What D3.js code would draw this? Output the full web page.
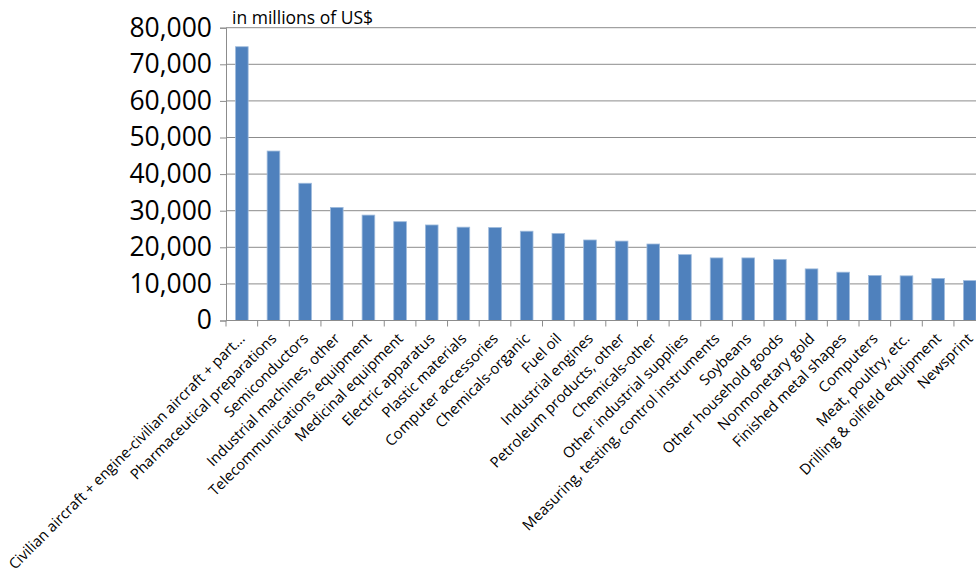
<!DOCTYPE html>
<html>
<head>
<meta charset="utf-8">
<script src="https://cdn.jsdelivr.net/npm/d3@7"></script>
<style>
  html, body { margin: 0; padding: 0; background: #fff; }
  svg { display: block; }
</style>
</head>
<body>
<svg id="chart" width="976" height="578"></svg>
<script>
// US export categories and values (in millions of US$)
const categories = [
  "Civilian aircraft + engine-civilian aircraft + part...",
  "Pharmaceutical preparations",
  "Semiconductors",
  "Industrial machines, other",
  "Telecommunications equipment",
  "Medicinal equipment",
  "Electric apparatus",
  "Plastic materials",
  "Computer accessories",
  "Chemicals-organic",
  "Fuel oil",
  "Industrial engines",
  "Petroleum products, other",
  "Chemicals-other",
  "Other industrial supplies",
  "Measuring, testing, control instruments",
  "Soybeans",
  "Other household goods",
  "Nonmonetary gold",
  "Finished metal shapes",
  "Computers",
  "Meat, poultry, etc.",
  "Drilling & oilfield equipment",
  "Newsprint"
];
const exportValues = [
  74800, 46300, 37500, 30900, 28800, 27000, 26100, 25500, 25400, 24400,
  23800, 22000, 21700, 20900, 18000, 17100, 17100, 16700, 14100, 13200,
  12300, 12200, 11500, 10900
];
const yTicks = [0, 10000, 20000, 30000, 40000, 50000, 60000, 70000, 80000];
const unitLabel = "in millions of US$";

const svg = d3.select("#chart");
const plotLeft = 226, plotTop = 27.7, plotBottom = 320.5;
const plotRight = plotLeft + categories.length * 31.65;

const x = d3.scaleBand().domain(categories).range([plotLeft, plotRight]).paddingInner(0.6).paddingOuter(0.3);
const y = d3.scaleLinear().domain([0, 80000]).range([plotBottom, plotTop]);

const font = "'Open Sans', sans-serif";

// horizontal gridlines
svg.append("g")
  .selectAll("line")
  .data(yTicks.filter(d => d > 0))
  .join("line")
  .attr("x1", plotLeft).attr("x2", plotRight)
  .attr("y1", d => y(d)).attr("y2", d => y(d))
  .attr("stroke", "#8c8c8c").attr("stroke-width", 1);

// bars
svg.append("g")
  .selectAll("rect")
  .data(exportValues)
  .join("rect")
  .attr("x", (d, i) => x(categories[i]))
  .attr("width", x.bandwidth())
  .attr("y", d => y(d))
  .attr("height", d => y(0) - y(d))
  .attr("fill", "#4f81bd")
  .attr("stroke", "#9fbbdc")
  .attr("stroke-width", 0.8);

// y axis
const yAxis = svg.append("g")
  .attr("transform", `translate(${plotLeft},0)`)
  .call(d3.axisLeft(y).tickValues(yTicks).tickSize(6).tickPadding(8)
    .tickFormat(d3.format(",")));
yAxis.select(".domain").attr("stroke", "#8c8c8c");
yAxis.selectAll(".tick line").attr("stroke", "#8c8c8c");
yAxis.selectAll(".tick text")
  .attr("font-family", font).attr("font-size", 26.5).attr("fill", "#000");

// x axis with ticks at category boundaries
const xg = svg.append("g");
xg.append("line")
  .attr("x1", plotLeft).attr("x2", plotRight)
  .attr("y1", plotBottom).attr("y2", plotBottom)
  .attr("stroke", "#8c8c8c");
const step = x.step();
xg.selectAll("line.tk")
  .data(d3.range(categories.length + 1))
  .join("line")
  .attr("class", "tk")
  .attr("x1", i => plotLeft + i * step).attr("x2", i => plotLeft + i * step)
  .attr("y1", plotBottom).attr("y2", plotBottom + 6)
  .attr("stroke", "#8c8c8c");

xg.selectAll("text")
  .data(categories)
  .join("text")
  .attr("transform", d => `translate(${x(d) + x.bandwidth() / 2 + 4},${plotBottom + 19}) rotate(-45)`)
  .attr("text-anchor", "end")
  .attr("font-family", font)
  .attr("font-size", 14.8)
  .attr("fill", "#000")
  .text(d => d);

// unit label
svg.append("text")
  .attr("x", 232).attr("y", 24)
  .attr("font-family", font).attr("font-size", 17.5)
  .attr("fill", "#000")
  .text(unitLabel);
</script>
</body>
</html>
